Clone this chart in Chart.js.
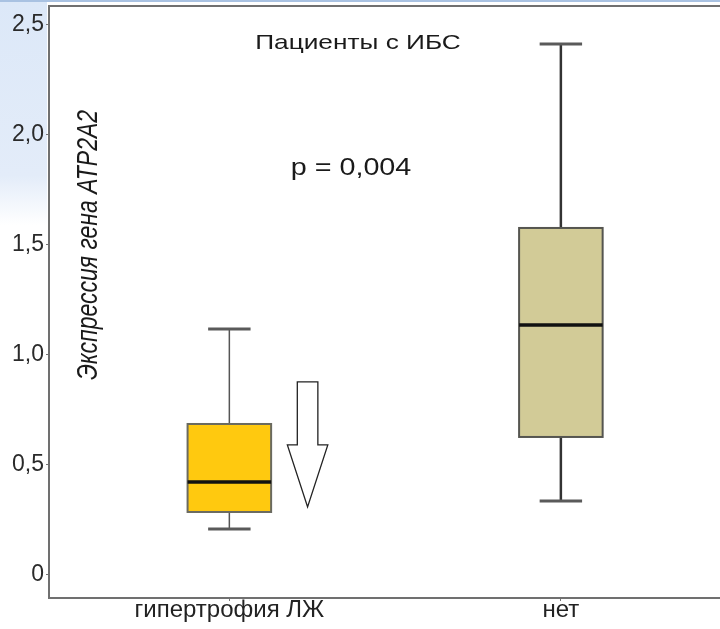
<!DOCTYPE html>
<html>
<head>
<meta charset="utf-8">
<script src="https://cdn.jsdelivr.net/npm/chart.js@4"></script>
<style>
  html, body { margin: 0; padding: 0; background: #fff; }
  #wrap { position: relative; width: 720px; height: 629px; overflow: hidden; }
  #corner { position: absolute; left: 0; top: 0; width: 47px; height: 225px;
            background: linear-gradient(to bottom, #dce8f8 0%, #e3ecf9 78%, rgba(255,255,255,0) 100%); }
  #topline { position: absolute; left: 0; top: 0; width: 720px; height: 2px; background: #a9c2e2; }
  canvas { position: absolute; left: 0; top: 0; }
</style>
</head>
<body>
<div id="wrap">
  <div id="corner"></div>
  <div id="topline"></div>
  <canvas id="c" width="720" height="629"></canvas>
</div>
<script>
// ---- data ----
const categories = ['гипертрофия ЛЖ', 'нет'];
const whiskerLow  = [0.207, 0.334];
const q1          = [0.284, 0.625];
const median      = [0.420, 1.134];
const q3          = [0.684, 1.575];
const whiskerHigh = [1.116, 2.411];
const yTicks = [0, 0.5, 1.0, 1.5, 2.0, 2.5];
const chartTitle = 'Пациенты с ИБС';
const pValueText = 'p = 0,004';
const yTitle = 'Экспрессия гена ATP2A2';
// arrow annotation (values on y axis)
const arrowTop = 0.875, arrowHeadBase = 0.589, arrowTip = 0.307;

const fills   = ['#FFC90F', '#D2CB97'];
const borders = ['#6a6a60', '#555550'];
const whiskerColors = ['#555', '#333'];
const whiskerWidths = [1.5, 2.5];

const SX = 1.25; // horizontal stretch of text in the reference

const boxPlugin = {
  id: 'boxes',
  afterDatasetsDraw(chart) {
    const {ctx, scales: {x, y}, chartArea} = chart;
    ctx.save();
    // top frame line
    ctx.strokeStyle = '#707070';
    ctx.lineWidth = 2;
    ctx.beginPath();
    ctx.moveTo(chartArea.left, chartArea.top);
    ctx.lineTo(chartArea.right, chartArea.top);
    ctx.stroke();

    const half = 0.126, capHalf = 0.064;
    categories.forEach((c, i) => {
      const xc = x.getPixelForValue(i);
      const xl = x.getPixelForValue(i - half), xr = x.getPixelForValue(i + half);
      const cl = x.getPixelForValue(i - capHalf), cr = x.getPixelForValue(i + capHalf);
      const yWL = y.getPixelForValue(whiskerLow[i]);
      const yQ1 = y.getPixelForValue(q1[i]);
      const yM  = y.getPixelForValue(median[i]);
      const yQ3 = y.getPixelForValue(q3[i]);
      const yWH = y.getPixelForValue(whiskerHigh[i]);
      // whiskers
      ctx.strokeStyle = whiskerColors[i];
      ctx.lineWidth = whiskerWidths[i];
      ctx.beginPath();
      ctx.moveTo(xc, yWH); ctx.lineTo(xc, yQ3);
      ctx.moveTo(xc, yQ1); ctx.lineTo(xc, yWL);
      ctx.stroke();
      // caps
      ctx.strokeStyle = '#5a5a5a';
      ctx.lineWidth = 3;
      ctx.beginPath();
      ctx.moveTo(cl, yWH); ctx.lineTo(cr, yWH);
      ctx.moveTo(cl, yWL); ctx.lineTo(cr, yWL);
      ctx.stroke();
      // box
      ctx.fillStyle = fills[i];
      ctx.fillRect(xl, yQ3, xr - xl, yQ1 - yQ3);
      ctx.strokeStyle = borders[i];
      ctx.lineWidth = 2;
      ctx.strokeRect(xl, yQ3, xr - xl, yQ1 - yQ3);
      // median
      ctx.strokeStyle = '#111';
      ctx.lineWidth = 3.5;
      ctx.beginPath();
      ctx.moveTo(xl, yM); ctx.lineTo(xr, yM);
      ctx.stroke();
    });

    // arrow
    const ax = 0.236, shaftHalf = 0.031, headHalf = 0.061;
    const pax = x.getPixelForValue(ax);
    const sl = x.getPixelForValue(ax - shaftHalf), sr = x.getPixelForValue(ax + shaftHalf);
    const hl = x.getPixelForValue(ax - headHalf), hr = x.getPixelForValue(ax + headHalf);
    const yt = y.getPixelForValue(arrowTop), yb = y.getPixelForValue(arrowHeadBase), yp = y.getPixelForValue(arrowTip);
    ctx.beginPath();
    ctx.moveTo(sl, yt); ctx.lineTo(sr, yt); ctx.lineTo(sr, yb); ctx.lineTo(hr, yb);
    ctx.lineTo(pax, yp); ctx.lineTo(hl, yb); ctx.lineTo(sl, yb); ctx.closePath();
    ctx.fillStyle = '#fff';
    ctx.fill();
    ctx.strokeStyle = '#222';
    ctx.lineWidth = 1.3;
    ctx.stroke();

    // texts
    ctx.fillStyle = '#1a1a1a';
    ctx.textAlign = 'center';
    ctx.textBaseline = 'middle';
    ctx.save();
    ctx.translate(358, 43); ctx.scale(SX, 1);
    ctx.font = '21px "Liberation Sans", Arial, sans-serif';
    ctx.fillText(chartTitle, 0, 0);
    ctx.restore();

    ctx.save();
    ctx.translate(351, 169); ctx.scale(SX, 1);
    ctx.font = '23px "Liberation Sans", Arial, sans-serif';
    ctx.fillText(pValueText, 0, 0);
    ctx.restore();

    ctx.save();
    ctx.translate(89, 245); ctx.scale(SX, 1); ctx.rotate(-Math.PI / 2);
    ctx.font = 'italic 23px "Liberation Sans", Arial, sans-serif';
    ctx.fillText(yTitle, 0, 0);
    ctx.restore();

    ctx.restore();
  }
};

new Chart(document.getElementById('c'), {
  type: 'scatter',
  data: {
    datasets: [{
      data: categories.map((c, i) => ({x: i, y: median[i]})),
      pointRadius: 0, pointHoverRadius: 0, showLine: false
    }]
  },
  options: {
    responsive: false,
    animation: false,
    events: [],
    layout: { padding: { top: 6, right: 0, left: 0, bottom: 0 } },
    plugins: { legend: { display: false }, tooltip: { enabled: false }, title: { display: false } },
    scales: {
      x: {
        type: 'linear',
        min: -0.544, max: 1.48,
        afterBuildTicks: s => { s.ticks = categories.map((c, i) => ({value: i})); },
        afterFit: s => { s.height = 31; s.paddingLeft = 0; s.paddingRight = 0; },
        grid: { drawOnChartArea: false, drawTicks: true, tickLength: 3, color: '#777' },
        border: { display: true, color: '#707070', width: 2 },
        ticks: {
          callback: v => categories[v],
          font: { family: '"Liberation Sans", Arial, sans-serif', size: 24 },
          color: '#222', padding: -5, maxRotation: 0, autoSkip: false
        }
      },
      y: {
        type: 'linear',
        min: -0.107, max: 2.584,
        afterBuildTicks: s => { s.ticks = yTicks.map(v => ({value: v})); },
        afterFit: s => { s.width = 49; s.paddingTop = 0; s.paddingBottom = 0; },
        grid: { drawOnChartArea: false, drawTicks: true, tickLength: 3, color: '#777' },
        border: { display: true, color: '#707070', width: 2 },
        ticks: {
          callback: v => v === 0 ? '0' : v.toFixed(1).replace('.', ','),
          font: { family: '"Liberation Sans", Arial, sans-serif', size: 23 },
          color: '#2a2a2a', padding: 2
        }
      }
    }
  },
  plugins: [boxPlugin]
});
</script>
</body>
</html>
